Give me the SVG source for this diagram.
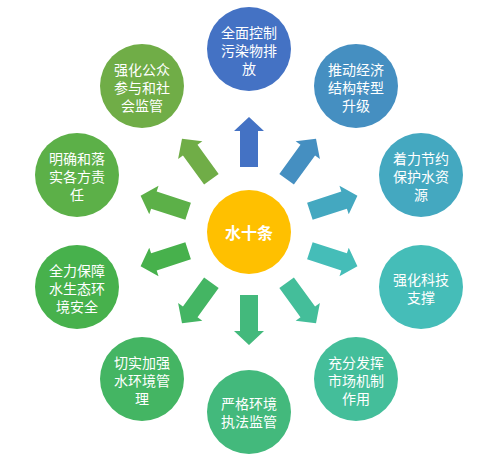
<svg xmlns="http://www.w3.org/2000/svg" width="499" height="470" viewBox="0 0 499 470">
<style>
.t{font-family:"Noto Sans CJK SC","Microsoft YaHei",sans-serif;font-size:14px;fill:#ffffff;text-anchor:middle;dominant-baseline:central}
.c{font-family:"Noto Sans CJK SC","Microsoft YaHei",sans-serif;font-size:16px;font-weight:bold;fill:#ffffff;text-anchor:middle;dominant-baseline:central}
</style>
<defs>
<path id="arr" d="M -9,-64 L -9,-100 L -15,-100 L 0,-114 L 15,-100 L 9,-100 L 9,-64 Z"/>
</defs>
<rect width="499" height="470" fill="#ffffff"/>
<g id="connectors" transform="translate(249,231)">
<use href="#arr" fill="#4472C4" transform="rotate(0)"/>
<use href="#arr" fill="#458FC1" transform="rotate(36)"/>
<use href="#arr" fill="#44A8C0" transform="rotate(72)"/>
<use href="#arr" fill="#45BDB8" transform="rotate(108)"/>
<use href="#arr" fill="#44BE9A" transform="rotate(144)"/>
<use href="#arr" fill="#43B97C" transform="rotate(180)"/>
<use href="#arr" fill="#44B563" transform="rotate(216)"/>
<use href="#arr" fill="#47B14C" transform="rotate(252)"/>
<use href="#arr" fill="#5CB048" transform="rotate(288)"/>
<use href="#arr" fill="#70AD47" transform="rotate(324)"/>
</g>
<g id="center">
<circle cx="249" cy="232" r="42" fill="#FFC000"/>
<text class="c" x="249" y="232">水十条</text>
</g>
<g id="n1">
<circle cx="249" cy="49" r="42" fill="#4472C4"/>
<text class="t" x="249" y="32">全面控制<tspan x="249" dy="18">污染物排</tspan><tspan x="249" dy="18">放</tspan></text>
</g>
<g id="n2">
<circle cx="356" cy="86" r="42" fill="#458FC1"/>
<text class="t" x="356" y="69">推动经济<tspan x="356" dy="18">结构转型</tspan><tspan x="356" dy="18">升级</tspan></text>
</g>
<g id="n3">
<circle cx="421" cy="175" r="42" fill="#44A8C0"/>
<text class="t" x="421" y="158">着力节约<tspan x="421" dy="18">保护水资</tspan><tspan x="421" dy="18">源</tspan></text>
</g>
<g id="n4">
<circle cx="421" cy="287" r="42" fill="#45BDB8"/>
<text class="t" x="421" y="279">强化科技<tspan x="421" dy="18">支撑</tspan></text>
</g>
<g id="n5">
<circle cx="356" cy="379" r="42" fill="#44BE9A"/>
<text class="t" x="356" y="362">充分发挥<tspan x="356" dy="18">市场机制</tspan><tspan x="356" dy="18">作用</tspan></text>
</g>
<g id="n6">
<circle cx="249" cy="412" r="42" fill="#43B97C"/>
<text class="t" x="249" y="403">严格环境<tspan x="249" dy="18">执法监管</tspan></text>
</g>
<g id="n7">
<circle cx="142" cy="379" r="42" fill="#44B563"/>
<text class="t" x="142" y="362">切实加强<tspan x="142" dy="18">水环境管</tspan><tspan x="142" dy="18">理</tspan></text>
</g>
<g id="n8">
<circle cx="77" cy="287" r="42" fill="#47B14C"/>
<text class="t" x="77" y="270">全力保障<tspan x="77" dy="18">水生态环</tspan><tspan x="77" dy="18">境安全</tspan></text>
</g>
<g id="n9">
<circle cx="77" cy="175" r="42" fill="#5CB048"/>
<text class="t" x="77" y="158">明确和落<tspan x="77" dy="18">实各方责</tspan><tspan x="77" dy="18">任</tspan></text>
</g>
<g id="n10">
<circle cx="142" cy="86" r="42" fill="#70AD47"/>
<text class="t" x="142" y="69">强化公众<tspan x="142" dy="18">参与和社</tspan><tspan x="142" dy="18">会监管</tspan></text>
</g>
</svg>
